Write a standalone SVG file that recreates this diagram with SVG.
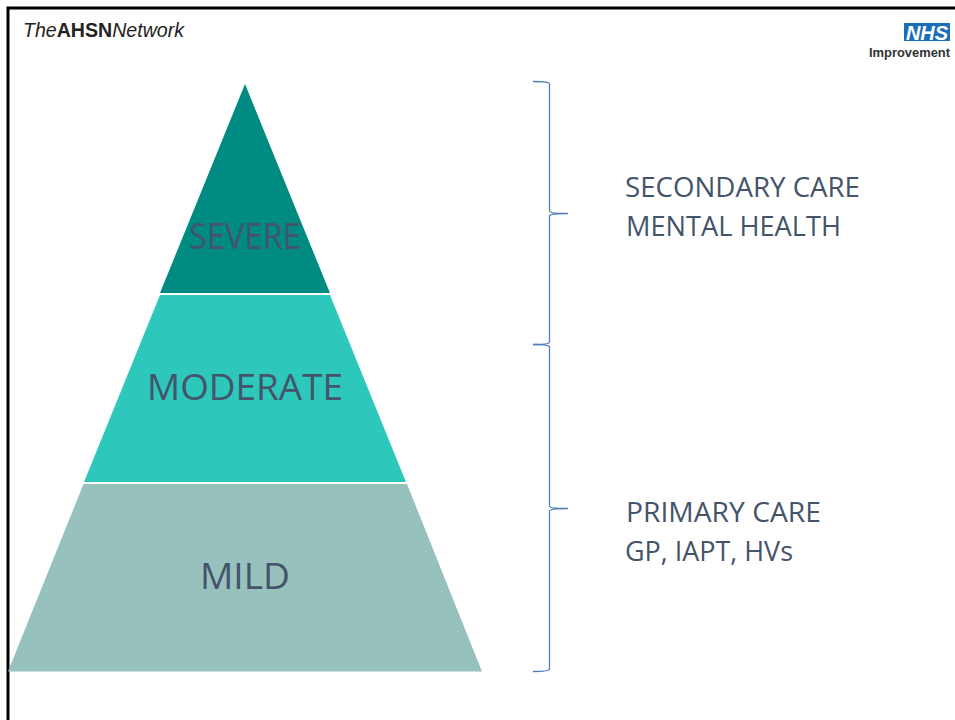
<svg xmlns="http://www.w3.org/2000/svg" width="955" height="720" viewBox="0 0 955 720">
<style>
.lbl{font-family:"Open Sans","Noto Sans",sans-serif;fill:#44546a;}
.c{font-size:36px;text-anchor:middle;}
.s{font-size:27.500px;}
.b{fill:none;stroke:#4f7fb8;stroke-width:1.300;}
</style>
<rect width="955" height="720" fill="#fff"/>
<path d="M8 720V8H955" fill="none" stroke="#000" stroke-width="3"/>
<g id="ahsn-logo"><text x="23" y="37" font-family="Liberation Sans,sans-serif" font-size="19.500" fill="#222" textLength="161" lengthAdjust="spacingAndGlyphs"><tspan font-style="italic">The</tspan><tspan font-weight="bold">AHSN</tspan><tspan font-style="italic">Network</tspan></text></g>
<g id="nhs-logo"><rect x="904" y="23" width="46" height="18" fill="#1a6fb8"/><text x="927" y="39.500" text-anchor="middle" font-family="Liberation Sans,sans-serif" font-size="20" font-weight="bold" font-style="italic" fill="#fff">NHS</text><text x="869" y="56.500" font-family="Liberation Sans,sans-serif" font-size="13" font-weight="bold" fill="#333" textLength="81" lengthAdjust="spacingAndGlyphs">Improvement</text></g>
<g id="severe"><polygon points="245,84 330,293 160,293" fill="#008b82"/><text class="lbl c" x="245" y="249" textLength="112" lengthAdjust="spacingAndGlyphs">SEVERE</text></g>
<g id="moderate"><polygon points="160,295 330,295 406,482 84,482" fill="#2dc8bb"/><text class="lbl c" x="245" y="400" textLength="196" lengthAdjust="spacingAndGlyphs">MODERATE</text></g>
<g id="mild"><polygon points="83.500,484 407,484 482,671.500 8,671.500" fill="#97c1bd"/><text class="lbl c" x="245" y="589" textLength="90" lengthAdjust="spacingAndGlyphs">MILD</text></g>
<g id="connectors">
<path class="b" d="M533 81.500C541 81.500 549.500 82 549.500 84V211C549.500 213 557 213.500 568 213.500C557 213.500 549.500 214 549.500 216V342C549.500 344 541 344.500 533 344.500"/>
<path class="b" d="M533 344.500C541 344.500 549.500 345 549.500 347V506C549.500 508 557 508.500 568 508.500C557 508.500 549.500 509 549.500 511V669C549.500 671 541 671.500 533 671.500"/>
</g>
<g id="secondary-care"><text class="lbl s" x="625" y="197" textLength="235" lengthAdjust="spacingAndGlyphs">SECONDARY CARE</text><text class="lbl s" x="626" y="236" textLength="215" lengthAdjust="spacingAndGlyphs">MENTAL HEALTH</text></g>
<g id="primary-care"><text class="lbl s" x="626" y="522" textLength="195" lengthAdjust="spacingAndGlyphs">PRIMARY CARE</text><text class="lbl s" x="625" y="561" textLength="168" lengthAdjust="spacingAndGlyphs">GP, IAPT, HVs</text></g>
</svg>
